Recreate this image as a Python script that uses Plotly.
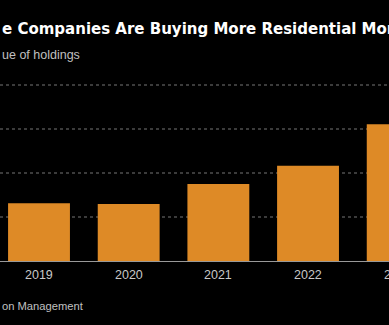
import plotly.graph_objects as go

# Value of holdings by year (billions)
years = ["2019", "2020", "2021", "2022", "2023"]
holdings = [65.5, 64.8, 87.5, 108.3, 155.3]
grid_values = [50, 100, 150, 200]

title_text = "e Companies Are Buying More Residential Mor"
subtitle_text = "ue of holdings"
source_text = "on Management"

BG = "#000000"
BAR = "#DE8A26"
W, H = 389, 325
M_T, M_B = 75, 64
plot_h = H - M_T - M_B
X_RANGE = [-0.435, 3.903]


def paper_y(px):
    # convert a page y pixel to paper coordinates
    return (H - M_B - px) / plot_h


def paper_x(idx):
    # category index -> paper x via the x-axis range
    return (idx - X_RANGE[0]) / (X_RANGE[1] - X_RANGE[0])


fig = go.Figure()
fig.add_trace(go.Bar(
    x=years, y=holdings,
    marker=dict(color=BAR, line=dict(width=0)),
    hoverinfo="skip",
))

# Year labels under each category (the last one sits past the visible range)
for i, yr in enumerate(years):
    fig.add_annotation(
        x=paper_x(i), xref="paper", y=paper_y(275), yref="paper", yanchor="middle",
        text=yr, showarrow=False, xanchor="center",
        font=dict(family="Liberation Sans, Arial", size=12.5, color="#c8c8c8"),
    )

# Dotted gridlines
for gv in grid_values:
    fig.add_shape(
        type="line", xref="paper", x0=0, x1=1, yref="y", y0=gv, y1=gv,
        line=dict(color="#777777", width=1, dash="dot"), layer="below",
    )

fig.add_annotation(
    x=0, xref="paper", xanchor="left", y=paper_y(29), yref="paper", yanchor="middle",
    text="<b>" + title_text + "</b>", showarrow=False,
    font=dict(family="DejaVu Sans", size=15, color="#ffffff"),
)
fig.add_annotation(
    x=0, xref="paper", xanchor="left", y=paper_y(55), yref="paper", yanchor="middle",
    text=subtitle_text, showarrow=False,
    font=dict(family="Liberation Sans, Arial", size=12.5, color="#c0c0c0"),
)
fig.add_annotation(
    x=0, xref="paper", xanchor="left", y=paper_y(306), yref="paper", yanchor="middle",
    text=source_text, showarrow=False,
    font=dict(family="Liberation Sans, Arial", size=11.2, color="#c0c0c0"),
)

fig.update_layout(
    width=W, height=H,
    margin=dict(l=0, r=0, t=M_T, b=M_B),
    paper_bgcolor=BG, plot_bgcolor=BG,
    bargap=0.31,
    showlegend=False,
    xaxis=dict(
        type="category", range=X_RANGE,
        showticklabels=False, showgrid=False, zeroline=False,
        showline=True, linecolor="#999999", linewidth=1,
        fixedrange=True,
    ),
    yaxis=dict(
        range=[0, 211.36], showticklabels=False, showgrid=False,
        zeroline=False, fixedrange=True,
    ),
)

fig.write_html("out.html")
